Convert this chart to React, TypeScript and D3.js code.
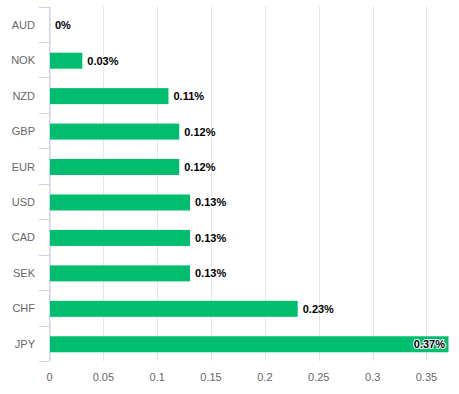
import React from "react";
import * as d3 from "d3";

const categories = ["AUD", "NOK", "NZD", "GBP", "EUR", "USD", "CAD", "SEK", "CHF", "JPY"];
const values = [0, 0.03, 0.11, 0.12, 0.12, 0.13, 0.13, 0.13, 0.23, 0.37];
const xTicks = [0, 0.05, 0.1, 0.15, 0.2, 0.25, 0.3, 0.35];

const W = 459, H = 394;
const left = 49.5, right = 448, top = 6.5, bottom = 361;
const font = "'Liberation Sans', Arial, sans-serif";

export default function App() {
  const x = d3.scaleLinear().domain([0, 0.37]).range([left, right]);
  const y = d3.scaleBand().domain(categories).range([top, bottom]).paddingInner(0).paddingOuter(0);
  const bw = y.bandwidth();
  const barH = 16;
  return (
    <svg width={W} height={H} style={{ position: "absolute", left: 0, top: 0 }} fontFamily={font}>
      <rect width={W} height={H} fill="#fff" />
      {xTicks.map((t) => (
        <line key={"g" + t} x1={Math.round(x(t)) + 0.5} x2={Math.round(x(t)) + 0.5} y1={top} y2={bottom} stroke="#e6e6e6" />
      ))}
      {categories.map((c, i) => {
        const yc = (y(c) as number) + bw / 2;
        const v = values[i];
        const xe = x(v);
        const label = (v === 0 ? "0" : String(v)) + "%";
        const inside = xe + 50 > right;
        return (
          <g key={c}>
            <text x={35} y={yc + 4.5} textAnchor="end" fontSize={11} fill="#666">{c}</text>
            {v > 0 && <rect x={left + 0.5} y={yc - barH / 2 + 1} width={xe - left} height={barH} fill="#00be6e" />}
            <text
              x={inside ? xe - 3 : xe + 5.5}
              y={yc + 5}
              textAnchor={inside ? "end" : "start"}
              fontSize={11}
              fontWeight="bold"
              fill="#000"
              stroke="#fff"
              strokeWidth={2}
              strokeLinejoin="round"
              paintOrder="stroke"
            >
              {label}
            </text>
          </g>
        );
      })}
      {categories.map((c) => (
        <line key={"t" + c} x1={39} x2={left} y1={Math.round((y(c) as number)) + 0.5} y2={Math.round((y(c) as number)) + 0.5} stroke="#ccd6eb" />
      ))}
      <line x1={39} x2={left} y1={bottom + 0.5} y2={bottom + 0.5} stroke="#ccd6eb" />
      <line x1={left} x2={left} y1={top} y2={bottom} stroke="#ccd6eb" />
      {xTicks.map((t) => (
        <text key={"l" + t} x={x(t)} y={381} textAnchor="middle" fontSize={11} fill="#666">{String(t)}</text>
      ))}
    </svg>
  );
}
